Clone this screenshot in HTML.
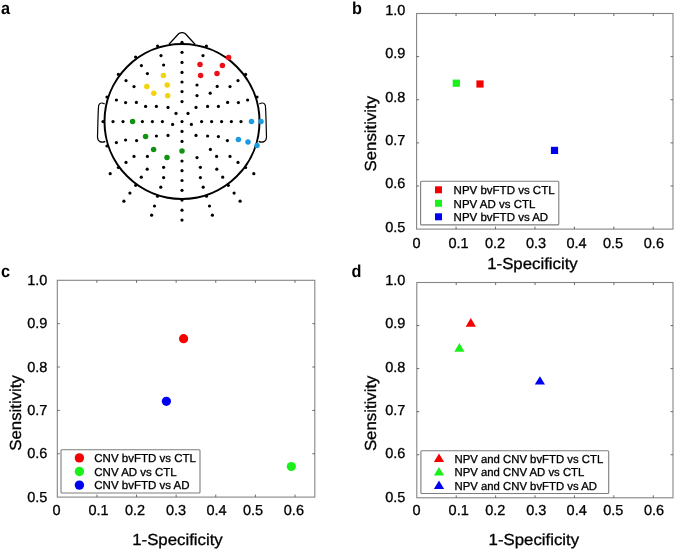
<!DOCTYPE html>
<html><head><meta charset="utf-8"><style>
html,body{margin:0;padding:0;background:#fff;}
body{width:675px;height:550px;overflow:hidden;}
svg{display:block;will-change:transform;}
text{font-family:"Liberation Sans", sans-serif;fill:#000;text-rendering:geometricPrecision;stroke:#000;stroke-width:0.3px;}
.t{font-size:14.5px;}
.ti{font-size:16.0px;}
.lg{font-size:11.5px;}
.pl{font-size:17.3px;font-weight:bold;fill:#000;stroke-width:0;}
</style></head><body>
<svg width="675" height="550" viewBox="0 0 675 550">
<rect width="675" height="550" fill="#fff"/>
<circle cx="182" cy="121.5" r="77.5" fill="none" stroke="#000" stroke-width="2.0"/>
<path d="M169,44.2 L178.6,33.8 Q182,31.3 185.4,33.8 L195,44.2" fill="none" stroke="#000" stroke-width="1.3"/>
<path d="M104.7,104 C102.5,102.6 99.8,102.4 98.7,105.2 C98,110 97.9,125 97.5,137 C97.6,141.6 101.5,143.3 105.3,141.4" fill="none" stroke="#000" stroke-width="1.2"/>
<path d="M259.3,104 C261.5,102.6 264.2,102.4 265.3,105.2 C266,110 266.1,125 266.5,137 C266.4,141.6 262.5,143.3 258.7,141.4" fill="none" stroke="#000" stroke-width="1.2"/>
<circle cx="157.6" cy="46.0" r="1.6" fill="#000"/>
<circle cx="206.4" cy="46.0" r="1.6" fill="#000"/>
<circle cx="135.6" cy="57.0" r="1.6" fill="#000"/>
<circle cx="118.4" cy="74.4" r="1.6" fill="#000"/>
<circle cx="245.6" cy="74.4" r="1.6" fill="#000"/>
<circle cx="107.0" cy="97.0" r="1.6" fill="#000"/>
<circle cx="257.0" cy="97.0" r="1.6" fill="#000"/>
<circle cx="103.0" cy="121.6" r="1.6" fill="#000"/>
<circle cx="161.0" cy="55.6" r="1.6" fill="#000"/>
<circle cx="203.0" cy="55.6" r="1.6" fill="#000"/>
<circle cx="141.4" cy="65.6" r="1.6" fill="#000"/>
<circle cx="163.6" cy="65.0" r="1.6" fill="#000"/>
<circle cx="147.4" cy="73.6" r="1.6" fill="#000"/>
<circle cx="126.0" cy="80.6" r="1.6" fill="#000"/>
<circle cx="238.0" cy="80.6" r="1.6" fill="#000"/>
<circle cx="134.0" cy="86.6" r="1.6" fill="#000"/>
<circle cx="230.0" cy="86.6" r="1.6" fill="#000"/>
<circle cx="116.4" cy="100.0" r="1.6" fill="#000"/>
<circle cx="247.6" cy="100.0" r="1.6" fill="#000"/>
<circle cx="125.6" cy="102.6" r="1.6" fill="#000"/>
<circle cx="238.4" cy="102.6" r="1.6" fill="#000"/>
<circle cx="136.4" cy="102.4" r="1.6" fill="#000"/>
<circle cx="227.6" cy="102.4" r="1.6" fill="#000"/>
<circle cx="145.6" cy="106.4" r="1.6" fill="#000"/>
<circle cx="218.4" cy="106.4" r="1.6" fill="#000"/>
<circle cx="156.4" cy="106.4" r="1.6" fill="#000"/>
<circle cx="207.6" cy="106.4" r="1.6" fill="#000"/>
<circle cx="168.0" cy="107.4" r="1.6" fill="#000"/>
<circle cx="196.0" cy="107.4" r="1.6" fill="#000"/>
<circle cx="176.0" cy="113.4" r="1.6" fill="#000"/>
<circle cx="188.0" cy="113.4" r="1.6" fill="#000"/>
<circle cx="113.0" cy="121.6" r="1.6" fill="#000"/>
<circle cx="123.0" cy="121.6" r="1.6" fill="#000"/>
<circle cx="241.0" cy="121.6" r="1.6" fill="#000"/>
<circle cx="142.4" cy="121.6" r="1.6" fill="#000"/>
<circle cx="221.6" cy="121.6" r="1.6" fill="#000"/>
<circle cx="152.4" cy="121.6" r="1.6" fill="#000"/>
<circle cx="211.6" cy="121.6" r="1.6" fill="#000"/>
<circle cx="162.4" cy="121.6" r="1.6" fill="#000"/>
<circle cx="201.6" cy="121.6" r="1.6" fill="#000"/>
<circle cx="172.6" cy="124.4" r="1.6" fill="#000"/>
<circle cx="191.4" cy="124.4" r="1.6" fill="#000"/>
<circle cx="168.0" cy="135.4" r="1.6" fill="#000"/>
<circle cx="196.0" cy="135.4" r="1.6" fill="#000"/>
<circle cx="156.4" cy="136.0" r="1.6" fill="#000"/>
<circle cx="207.6" cy="136.0" r="1.6" fill="#000"/>
<circle cx="136.6" cy="140.6" r="1.6" fill="#000"/>
<circle cx="227.4" cy="140.6" r="1.6" fill="#000"/>
<circle cx="125.6" cy="140.0" r="1.6" fill="#000"/>
<circle cx="116.4" cy="142.6" r="1.6" fill="#000"/>
<circle cx="107.0" cy="146.0" r="1.6" fill="#000"/>
<circle cx="134.0" cy="156.4" r="1.6" fill="#000"/>
<circle cx="230.0" cy="156.4" r="1.6" fill="#000"/>
<circle cx="147.4" cy="156.4" r="1.6" fill="#000"/>
<circle cx="216.6" cy="156.4" r="1.6" fill="#000"/>
<circle cx="126.0" cy="162.4" r="1.6" fill="#000"/>
<circle cx="238.0" cy="162.4" r="1.6" fill="#000"/>
<circle cx="118.4" cy="167.5" r="1.6" fill="#000"/>
<circle cx="245.6" cy="167.5" r="1.6" fill="#000"/>
<circle cx="147.2" cy="169.2" r="1.6" fill="#000"/>
<circle cx="216.8" cy="169.2" r="1.6" fill="#000"/>
<circle cx="163.6" cy="167.3" r="1.6" fill="#000"/>
<circle cx="200.4" cy="167.3" r="1.6" fill="#000"/>
<circle cx="110.2" cy="173.7" r="1.6" fill="#000"/>
<circle cx="253.8" cy="173.7" r="1.6" fill="#000"/>
<circle cx="141.3" cy="177.2" r="1.6" fill="#000"/>
<circle cx="222.7" cy="177.2" r="1.6" fill="#000"/>
<circle cx="163.6" cy="177.6" r="1.6" fill="#000"/>
<circle cx="200.4" cy="177.6" r="1.6" fill="#000"/>
<circle cx="135.7" cy="185.3" r="1.6" fill="#000"/>
<circle cx="228.3" cy="185.3" r="1.6" fill="#000"/>
<circle cx="160.8" cy="187.2" r="1.6" fill="#000"/>
<circle cx="203.2" cy="187.2" r="1.6" fill="#000"/>
<circle cx="129.9" cy="193.1" r="1.6" fill="#000"/>
<circle cx="234.1" cy="193.1" r="1.6" fill="#000"/>
<circle cx="157.5" cy="196.2" r="1.6" fill="#000"/>
<circle cx="206.5" cy="196.2" r="1.6" fill="#000"/>
<circle cx="123.9" cy="201.2" r="1.6" fill="#000"/>
<circle cx="240.1" cy="201.2" r="1.6" fill="#000"/>
<circle cx="154.5" cy="206.0" r="1.6" fill="#000"/>
<circle cx="209.5" cy="206.0" r="1.6" fill="#000"/>
<circle cx="151.6" cy="215.2" r="1.6" fill="#000"/>
<circle cx="212.4" cy="215.2" r="1.6" fill="#000"/>
<circle cx="182.0" cy="42.3" r="1.6" fill="#000"/>
<circle cx="182.0" cy="52.3" r="1.6" fill="#000"/>
<circle cx="182.0" cy="62.4" r="1.6" fill="#000"/>
<circle cx="182.0" cy="72.4" r="1.6" fill="#000"/>
<circle cx="182.0" cy="82.0" r="1.6" fill="#000"/>
<circle cx="182.0" cy="91.6" r="1.6" fill="#000"/>
<circle cx="182.0" cy="101.6" r="1.6" fill="#000"/>
<circle cx="182.0" cy="121.6" r="1.6" fill="#000"/>
<circle cx="182.0" cy="131.4" r="1.6" fill="#000"/>
<circle cx="182.0" cy="141.4" r="1.6" fill="#000"/>
<circle cx="182.0" cy="161.0" r="1.6" fill="#000"/>
<circle cx="182.0" cy="170.7" r="1.6" fill="#000"/>
<circle cx="182.0" cy="180.5" r="1.6" fill="#000"/>
<circle cx="182.0" cy="190.3" r="1.6" fill="#000"/>
<circle cx="182.0" cy="200.1" r="1.6" fill="#000"/>
<circle cx="182.0" cy="210.2" r="1.6" fill="#000"/>
<circle cx="182.0" cy="220.1" r="1.6" fill="#000"/>
<circle cx="197.0" cy="85.0" r="1.6" fill="#000"/>
<circle cx="197.0" cy="95.6" r="1.6" fill="#000"/>
<circle cx="217.2" cy="86.4" r="1.6" fill="#000"/>
<circle cx="210.2" cy="93.2" r="1.6" fill="#000"/>
<circle cx="231.4" cy="121.6" r="1.6" fill="#000"/>
<circle cx="218.4" cy="136.6" r="1.6" fill="#000"/>
<circle cx="210.4" cy="149.4" r="1.6" fill="#000"/>
<circle cx="197.0" cy="157.6" r="1.6" fill="#000"/>
<circle cx="163.4" cy="75.5" r="2.75" fill="#f2d40a"/>
<circle cx="167.2" cy="85.0" r="2.75" fill="#f2d40a"/>
<circle cx="146.8" cy="86.4" r="2.75" fill="#f2d40a"/>
<circle cx="153.8" cy="93.2" r="2.75" fill="#f2d40a"/>
<circle cx="167.7" cy="95.8" r="2.75" fill="#f2d40a"/>
<circle cx="228.6" cy="57.4" r="2.75" fill="#ec1016"/>
<circle cx="200.0" cy="64.4" r="2.75" fill="#ec1016"/>
<circle cx="222.4" cy="65.6" r="2.75" fill="#ec1016"/>
<circle cx="217.0" cy="73.6" r="2.75" fill="#ec1016"/>
<circle cx="200.6" cy="75.4" r="2.75" fill="#ec1016"/>
<circle cx="132.6" cy="121.6" r="2.75" fill="#129212"/>
<circle cx="145.6" cy="136.6" r="2.75" fill="#129212"/>
<circle cx="153.6" cy="149.4" r="2.75" fill="#129212"/>
<circle cx="167.0" cy="157.6" r="2.75" fill="#129212"/>
<circle cx="182.0" cy="151.0" r="2.75" fill="#129212"/>
<circle cx="251.5" cy="121.6" r="2.75" fill="#1d9be0"/>
<circle cx="261.0" cy="121.6" r="2.75" fill="#1d9be0"/>
<circle cx="238.4" cy="139.6" r="2.75" fill="#1d9be0"/>
<circle cx="248.0" cy="142.0" r="2.75" fill="#1d9be0"/>
<circle cx="257.0" cy="145.6" r="2.75" fill="#1d9be0"/>
<rect x="416.6" y="13.5" width="256.4" height="215.6" fill="none" stroke="#858585" stroke-width="1.1"/>
<line x1="456.05" y1="229.1" x2="456.05" y2="226.6" stroke="#5a5a5a" stroke-width="0.9"/>
<line x1="456.05" y1="13.5" x2="456.05" y2="16.0" stroke="#5a5a5a" stroke-width="0.9"/>
<line x1="495.49" y1="229.1" x2="495.49" y2="226.6" stroke="#5a5a5a" stroke-width="0.9"/>
<line x1="495.49" y1="13.5" x2="495.49" y2="16.0" stroke="#5a5a5a" stroke-width="0.9"/>
<line x1="534.94" y1="229.1" x2="534.94" y2="226.6" stroke="#5a5a5a" stroke-width="0.9"/>
<line x1="534.94" y1="13.5" x2="534.94" y2="16.0" stroke="#5a5a5a" stroke-width="0.9"/>
<line x1="574.38" y1="229.1" x2="574.38" y2="226.6" stroke="#5a5a5a" stroke-width="0.9"/>
<line x1="574.38" y1="13.5" x2="574.38" y2="16.0" stroke="#5a5a5a" stroke-width="0.9"/>
<line x1="613.83" y1="229.1" x2="613.83" y2="226.6" stroke="#5a5a5a" stroke-width="0.9"/>
<line x1="613.83" y1="13.5" x2="613.83" y2="16.0" stroke="#5a5a5a" stroke-width="0.9"/>
<line x1="653.28" y1="229.1" x2="653.28" y2="226.6" stroke="#5a5a5a" stroke-width="0.9"/>
<line x1="653.28" y1="13.5" x2="653.28" y2="16.0" stroke="#5a5a5a" stroke-width="0.9"/>
<line x1="416.6" y1="185.98" x2="419.1" y2="185.98" stroke="#5a5a5a" stroke-width="0.9"/>
<line x1="673" y1="185.98" x2="670.5" y2="185.98" stroke="#5a5a5a" stroke-width="0.9"/>
<line x1="416.6" y1="142.86" x2="419.1" y2="142.86" stroke="#5a5a5a" stroke-width="0.9"/>
<line x1="673" y1="142.86" x2="670.5" y2="142.86" stroke="#5a5a5a" stroke-width="0.9"/>
<line x1="416.6" y1="99.74" x2="419.1" y2="99.74" stroke="#5a5a5a" stroke-width="0.9"/>
<line x1="673" y1="99.74" x2="670.5" y2="99.74" stroke="#5a5a5a" stroke-width="0.9"/>
<line x1="416.6" y1="56.62" x2="419.1" y2="56.62" stroke="#5a5a5a" stroke-width="0.9"/>
<line x1="673" y1="56.62" x2="670.5" y2="56.62" stroke="#5a5a5a" stroke-width="0.9"/>
<text x="405.30" y="231.50" class="t" text-anchor="end">0.5</text>
<text x="405.30" y="187.90" class="t" text-anchor="end">0.6</text>
<text x="405.30" y="145.20" class="t" text-anchor="end">0.7</text>
<text x="405.30" y="102.00" class="t" text-anchor="end">0.8</text>
<text x="405.30" y="58.00" class="t" text-anchor="end">0.9</text>
<text x="405.30" y="15.20" class="t" text-anchor="end">1.0</text>
<text x="412.40" y="247.50" class="t" text-anchor="start">0</text>
<text x="448.40" y="247.50" class="t" text-anchor="start">0.1</text>
<text x="485.00" y="247.50" class="t" text-anchor="start">0.2</text>
<text x="526.00" y="247.50" class="t" text-anchor="start">0.3</text>
<text x="566.40" y="247.50" class="t" text-anchor="start">0.4</text>
<text x="603.00" y="247.50" class="t" text-anchor="start">0.5</text>
<text x="643.80" y="247.50" class="t" text-anchor="start">0.6</text>
<text class="ti" text-anchor="start" transform="translate(487.20,269.30) scale(1.05,1)">1-Specificity</text>
<text class="ti" transform="translate(375.80,171.50) rotate(-90) scale(1.05,1)">Sensitivity</text>
<rect x="57.3" y="280.3" width="257.5" height="216.8" fill="none" stroke="#858585" stroke-width="1.1"/>
<line x1="96.92" y1="497.1" x2="96.92" y2="494.6" stroke="#5a5a5a" stroke-width="0.9"/>
<line x1="96.92" y1="280.3" x2="96.92" y2="282.8" stroke="#5a5a5a" stroke-width="0.9"/>
<line x1="136.53" y1="497.1" x2="136.53" y2="494.6" stroke="#5a5a5a" stroke-width="0.9"/>
<line x1="136.53" y1="280.3" x2="136.53" y2="282.8" stroke="#5a5a5a" stroke-width="0.9"/>
<line x1="176.15" y1="497.1" x2="176.15" y2="494.6" stroke="#5a5a5a" stroke-width="0.9"/>
<line x1="176.15" y1="280.3" x2="176.15" y2="282.8" stroke="#5a5a5a" stroke-width="0.9"/>
<line x1="215.76" y1="497.1" x2="215.76" y2="494.6" stroke="#5a5a5a" stroke-width="0.9"/>
<line x1="215.76" y1="280.3" x2="215.76" y2="282.8" stroke="#5a5a5a" stroke-width="0.9"/>
<line x1="255.38" y1="497.1" x2="255.38" y2="494.6" stroke="#5a5a5a" stroke-width="0.9"/>
<line x1="255.38" y1="280.3" x2="255.38" y2="282.8" stroke="#5a5a5a" stroke-width="0.9"/>
<line x1="294.99" y1="497.1" x2="294.99" y2="494.6" stroke="#5a5a5a" stroke-width="0.9"/>
<line x1="294.99" y1="280.3" x2="294.99" y2="282.8" stroke="#5a5a5a" stroke-width="0.9"/>
<line x1="57.3" y1="453.74" x2="59.8" y2="453.74" stroke="#5a5a5a" stroke-width="0.9"/>
<line x1="314.8" y1="453.74" x2="312.3" y2="453.74" stroke="#5a5a5a" stroke-width="0.9"/>
<line x1="57.3" y1="410.38" x2="59.8" y2="410.38" stroke="#5a5a5a" stroke-width="0.9"/>
<line x1="314.8" y1="410.38" x2="312.3" y2="410.38" stroke="#5a5a5a" stroke-width="0.9"/>
<line x1="57.3" y1="367.02" x2="59.8" y2="367.02" stroke="#5a5a5a" stroke-width="0.9"/>
<line x1="314.8" y1="367.02" x2="312.3" y2="367.02" stroke="#5a5a5a" stroke-width="0.9"/>
<line x1="57.3" y1="323.66" x2="59.8" y2="323.66" stroke="#5a5a5a" stroke-width="0.9"/>
<line x1="314.8" y1="323.66" x2="312.3" y2="323.66" stroke="#5a5a5a" stroke-width="0.9"/>
<text x="47.30" y="501.50" class="t" text-anchor="end">0.5</text>
<text x="47.30" y="457.90" class="t" text-anchor="end">0.6</text>
<text x="47.30" y="415.20" class="t" text-anchor="end">0.7</text>
<text x="47.30" y="371.80" class="t" text-anchor="end">0.8</text>
<text x="47.30" y="327.70" class="t" text-anchor="end">0.9</text>
<text x="47.30" y="285.20" class="t" text-anchor="end">1.0</text>
<text x="52.40" y="515.40" class="t" text-anchor="start">0</text>
<text x="88.40" y="515.40" class="t" text-anchor="start">0.1</text>
<text x="125.00" y="515.40" class="t" text-anchor="start">0.2</text>
<text x="166.00" y="515.40" class="t" text-anchor="start">0.3</text>
<text x="206.40" y="515.40" class="t" text-anchor="start">0.4</text>
<text x="243.00" y="515.40" class="t" text-anchor="start">0.5</text>
<text x="283.80" y="515.40" class="t" text-anchor="start">0.6</text>
<text class="ti" text-anchor="start" transform="translate(132.20,544.60) scale(1.05,1)">1-Specificity</text>
<text class="ti" transform="translate(21.00,450.70) rotate(-90) scale(1.05,1)">Sensitivity</text>
<rect x="416.8" y="282.5" width="256.2" height="215.3" fill="none" stroke="#858585" stroke-width="1.1"/>
<line x1="456.22" y1="497.8" x2="456.22" y2="495.3" stroke="#5a5a5a" stroke-width="0.9"/>
<line x1="456.22" y1="282.5" x2="456.22" y2="285.0" stroke="#5a5a5a" stroke-width="0.9"/>
<line x1="495.63" y1="497.8" x2="495.63" y2="495.3" stroke="#5a5a5a" stroke-width="0.9"/>
<line x1="495.63" y1="282.5" x2="495.63" y2="285.0" stroke="#5a5a5a" stroke-width="0.9"/>
<line x1="535.05" y1="497.8" x2="535.05" y2="495.3" stroke="#5a5a5a" stroke-width="0.9"/>
<line x1="535.05" y1="282.5" x2="535.05" y2="285.0" stroke="#5a5a5a" stroke-width="0.9"/>
<line x1="574.46" y1="497.8" x2="574.46" y2="495.3" stroke="#5a5a5a" stroke-width="0.9"/>
<line x1="574.46" y1="282.5" x2="574.46" y2="285.0" stroke="#5a5a5a" stroke-width="0.9"/>
<line x1="613.88" y1="497.8" x2="613.88" y2="495.3" stroke="#5a5a5a" stroke-width="0.9"/>
<line x1="613.88" y1="282.5" x2="613.88" y2="285.0" stroke="#5a5a5a" stroke-width="0.9"/>
<line x1="653.29" y1="497.8" x2="653.29" y2="495.3" stroke="#5a5a5a" stroke-width="0.9"/>
<line x1="653.29" y1="282.5" x2="653.29" y2="285.0" stroke="#5a5a5a" stroke-width="0.9"/>
<line x1="416.8" y1="454.74" x2="419.3" y2="454.74" stroke="#5a5a5a" stroke-width="0.9"/>
<line x1="673" y1="454.74" x2="670.5" y2="454.74" stroke="#5a5a5a" stroke-width="0.9"/>
<line x1="416.8" y1="411.68" x2="419.3" y2="411.68" stroke="#5a5a5a" stroke-width="0.9"/>
<line x1="673" y1="411.68" x2="670.5" y2="411.68" stroke="#5a5a5a" stroke-width="0.9"/>
<line x1="416.8" y1="368.62" x2="419.3" y2="368.62" stroke="#5a5a5a" stroke-width="0.9"/>
<line x1="673" y1="368.62" x2="670.5" y2="368.62" stroke="#5a5a5a" stroke-width="0.9"/>
<line x1="416.8" y1="325.56" x2="419.3" y2="325.56" stroke="#5a5a5a" stroke-width="0.9"/>
<line x1="673" y1="325.56" x2="670.5" y2="325.56" stroke="#5a5a5a" stroke-width="0.9"/>
<text x="405.30" y="501.50" class="t" text-anchor="end">0.5</text>
<text x="405.30" y="457.90" class="t" text-anchor="end">0.6</text>
<text x="405.30" y="415.20" class="t" text-anchor="end">0.7</text>
<text x="405.30" y="371.80" class="t" text-anchor="end">0.8</text>
<text x="405.30" y="327.70" class="t" text-anchor="end">0.9</text>
<text x="405.30" y="285.20" class="t" text-anchor="end">1.0</text>
<text x="412.60" y="515.40" class="t" text-anchor="start">0</text>
<text x="448.60" y="515.40" class="t" text-anchor="start">0.1</text>
<text x="485.20" y="515.40" class="t" text-anchor="start">0.2</text>
<text x="526.20" y="515.40" class="t" text-anchor="start">0.3</text>
<text x="566.60" y="515.40" class="t" text-anchor="start">0.4</text>
<text x="603.20" y="515.40" class="t" text-anchor="start">0.5</text>
<text x="644.00" y="515.40" class="t" text-anchor="start">0.6</text>
<text class="ti" text-anchor="start" transform="translate(488.60,544.50) scale(1.05,1)">1-Specificity</text>
<text class="ti" transform="translate(376.00,451.10) rotate(-90) scale(1.05,1)">Sensitivity</text>
<rect x="420.6" y="181.3" width="138.19999999999993" height="43.599999999999994" rx="1" fill="#fff" stroke="#7e7e7e" stroke-width="1.1"/>
<rect x="435.0" y="186.3" width="7" height="7" fill="#f40000"/>
<text x="453.60" y="194.10" class="lg" text-anchor="start">NPV bvFTD vs CTL</text>
<rect x="435.0" y="199.8" width="7" height="7" fill="#1af01a"/>
<text x="453.60" y="207.60" class="lg" text-anchor="start">NPV AD vs CTL</text>
<rect x="435.0" y="213.3" width="7" height="7" fill="#0000f0"/>
<text x="453.60" y="221.10" class="lg" text-anchor="start">NPV bvFTD vs AD</text>
<rect x="61" y="449.7" width="139" height="43.30000000000001" rx="1" fill="#fff" stroke="#7e7e7e" stroke-width="1.1"/>
<circle cx="79.4" cy="457.9" r="4.7" fill="#f40000"/>
<text x="94.30" y="462.10" class="lg" text-anchor="start">CNV bvFTD vs CTL</text>
<circle cx="79.4" cy="471.5" r="4.7" fill="#1af01a"/>
<text x="94.30" y="475.70" class="lg" text-anchor="start">CNV AD vs CTL</text>
<circle cx="79.4" cy="485.09999999999997" r="4.7" fill="#0000f0"/>
<text x="94.30" y="489.30" class="lg" text-anchor="start">CNV bvFTD vs AD</text>
<rect x="420.9" y="450.7" width="187.80000000000007" height="42.80000000000001" rx="1" fill="#fff" stroke="#7e7e7e" stroke-width="1.1"/>
<path d="M439.0,453.40 L444.1,461.90 L433.9,461.90 Z" fill="#f40000"/>
<text class="lg" text-anchor="start" transform="translate(454.50,462.70) scale(0.986,1)">NPV and CNV bvFTD vs CTL</text>
<path d="M439.0,466.90 L444.1,475.40 L433.9,475.40 Z" fill="#1af01a"/>
<text class="lg" text-anchor="start" transform="translate(454.50,476.20) scale(0.986,1)">NPV and CNV AD vs CTL</text>
<path d="M439.0,480.40 L444.1,488.90 L433.9,488.90 Z" fill="#0000f0"/>
<text class="lg" text-anchor="start" transform="translate(454.50,489.70) scale(0.986,1)">NPV and CNV bvFTD vs AD</text>
<rect x="476.4" y="80.4" width="7.2" height="7.2" fill="#f40000"/>
<rect x="452.7" y="79.60000000000001" width="7.2" height="7.2" fill="#1af01a"/>
<rect x="550.9" y="146.8" width="7.2" height="7.2" fill="#0000f0"/>
<circle cx="183.6" cy="338.7" r="4.6" fill="#f40000"/>
<circle cx="291.3" cy="466.5" r="4.6" fill="#1af01a"/>
<circle cx="166.4" cy="401.3" r="4.6" fill="#0000f0"/>
<path d="M470.8,318 L475.90000000000003,326.8 L465.7,326.8 Z" fill="#f40000"/>
<path d="M459.4,342.9 L464.5,351.8 L454.29999999999995,351.8 Z" fill="#1af01a"/>
<path d="M539.9,376.2 L545.0,384.6 L534.8,384.6 Z" fill="#0000f0"/>
<text class="pl" text-anchor="start" transform="translate(0.90,13.60) scale(0.94,1)">a</text>
<text class="pl" text-anchor="start" transform="translate(352.10,13.60) scale(0.94,1)">b</text>
<text class="pl" text-anchor="start" transform="translate(0.90,276.90) scale(0.94,1)">c</text>
<text class="pl" text-anchor="start" transform="translate(351.60,276.80) scale(0.94,1)">d</text>
</svg>
</body></html>
